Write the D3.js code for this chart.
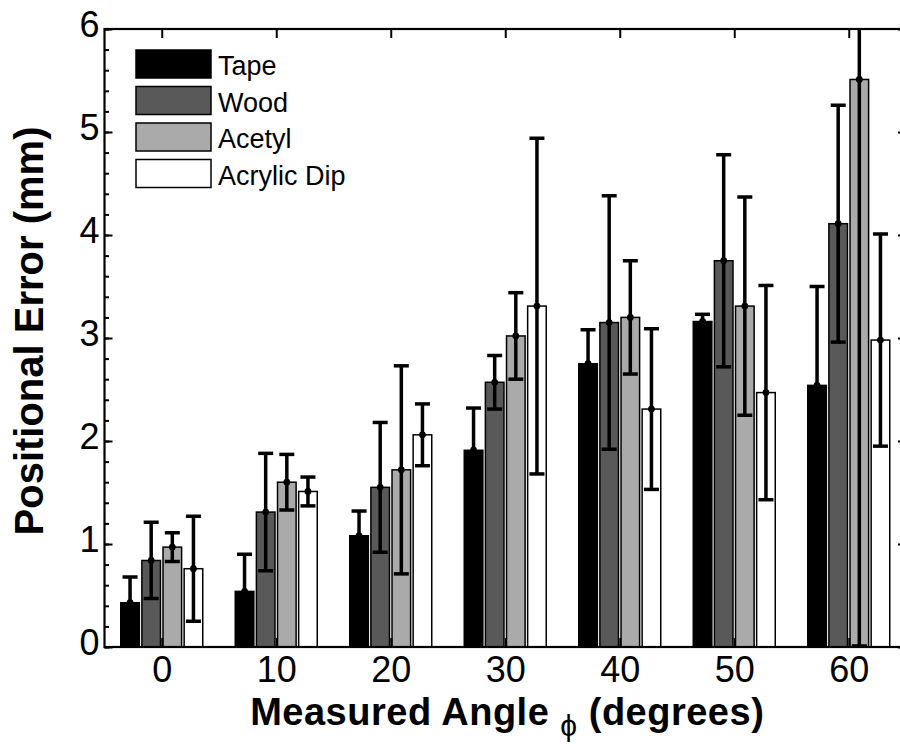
<!DOCTYPE html>
<html>
<head>
<meta charset="utf-8">
<script src="https://cdn.jsdelivr.net/npm/d3@7"></script>
<style>
  body { margin: 0; background: #fff; }
  text { font-family: "Liberation Sans", Arial, sans-serif; fill: #000; }
</style>
</head>
<body>
<script>
// data
const angles = [0, 10, 20, 30, 40, 50, 60];
const seriesNames = ["Tape", "Wood", "Acetyl", "Acrylic Dip"];
const seriesColors = ["#000000", "#595959", "#aaaaaa", "#ffffff"];

const tapeMean    = [0.43, 0.54, 1.08, 1.91, 2.75, 3.16, 2.54];
const tapeErr     = [0.25, 0.36, 0.24, 0.41, 0.33, 0.07, 0.96];
const woodMean    = [0.84, 1.31, 1.55, 2.57, 3.15, 3.75, 4.11];
const woodErr     = [0.37, 0.57, 0.63, 0.26, 1.23, 1.03, 1.15];
const acetylMean  = [0.97, 1.60, 1.72, 3.02, 3.20, 3.31, 5.51];
const acetylErr   = [0.14, 0.27, 1.01, 0.42, 0.55, 1.06, 5.50];
const acrylicMean = [0.76, 1.51, 2.06, 3.31, 2.31, 2.47, 2.98];
const acrylicErr  = [0.51, 0.14, 0.30, 1.63, 0.78, 1.04, 1.03];

const yTicks = [0, 1, 2, 3, 4, 5, 6];

const means = [tapeMean, woodMean, acetylMean, acrylicMean];
const errs = [tapeErr, woodErr, acetylErr, acrylicErr];

// flat table for the join
const rows = [];
seriesNames.forEach((s, si) => {
    angles.forEach((a, ai) => {
        rows.push({ series: s, si: si, angle: a, mean: means[si][ai], err: errs[si][ai] });
    });
});

const width = 900, height = 746;
const plotLeft = 104.5, plotRight = 906, plotTop = 29, plotBottom = 647;

const svg = d3.select("body").append("svg")
    .attr("width", width)
    .attr("height", height);

const x = d3.scaleLinear().domain([-5, 65]).range([plotLeft, plotRight]);
const y = d3.scaleLinear().domain([0, 6]).range([plotBottom, plotTop]);

// offset of each bar inside a group
const inner = d3.scaleBand()
    .domain(seriesNames)
    .range([-41, 41])
    .paddingInner(0.12);

svg.append("clipPath").attr("id", "plot-clip")
    .append("rect")
    .attr("x", plotLeft).attr("y", plotTop)
    .attr("width", plotRight - plotLeft).attr("height", plotBottom - plotTop);

const plot = svg.append("g").attr("clip-path", "url(#plot-clip)");

// bars
plot.selectAll("rect.bar")
    .data(rows)
    .join("rect")
    .attr("class", "bar")
    .attr("x", d => x(d.angle) + inner(d.series))
    .attr("y", d => y(d.mean))
    .attr("width", inner.bandwidth())
    .attr("height", d => y(0) - y(d.mean))
    .attr("fill", d => seriesColors[d.si])
    .attr("stroke", "#000")
    .attr("stroke-width", 1.5);

// error bars
const eb = plot.selectAll("g.err")
    .data(rows)
    .join("g")
    .attr("class", "err")
    .attr("transform", d => `translate(${x(d.angle) + inner(d.series) + inner.bandwidth() / 2},0)`);

eb.append("line")
    .attr("y1", d => y(d.mean - d.err))
    .attr("y2", d => y(d.mean + d.err))
    .attr("stroke", "#000")
    .attr("stroke-width", 3.5);

eb.selectAll("line.cap")
    .data(d => [d.mean - d.err, d.mean + d.err])
    .join("line")
    .attr("class", "cap")
    .attr("x1", -7.5).attr("x2", 7.5)
    .attr("y1", v => y(v)).attr("y2", v => y(v))
    .attr("stroke", "#000")
    .attr("stroke-width", 3.5);

eb.append("circle")
    .attr("cy", d => y(d.mean))
    .attr("r", 3.4)
    .attr("fill", "#000");

// axes
const minor = d3.range(0, 6.001, 0.2).map(v => +v.toFixed(1));

function styleAxis(g) {
    g.select(".domain").remove();
    g.selectAll(".tick line").attr("stroke", "#000").attr("stroke-width", 2);
}

svg.append("g")
    .attr("transform", `translate(${plotLeft},0)`)
    .call(d3.axisLeft(y).tickValues(minor).tickSizeInner(-4.5).tickSizeOuter(0).tickFormat(""))
    .call(styleAxis);

svg.append("g")
    .attr("transform", `translate(${plotRight},0)`)
    .call(d3.axisRight(y).tickValues(minor).tickSizeInner(-4.5).tickSizeOuter(0).tickFormat(""))
    .call(styleAxis);

svg.append("g")
    .attr("transform", `translate(${plotLeft},0)`)
    .call(d3.axisLeft(y).tickValues(yTicks).tickSizeInner(-8).tickSizeOuter(0).tickPadding(5).tickFormat(d3.format("d")))
    .call(styleAxis)
    .call(g => g.selectAll("text")
        .attr("font-size", 36)
        .attr("dy", "0.2em"));

svg.append("g")
    .attr("transform", `translate(${plotRight},0)`)
    .call(d3.axisRight(y).tickValues(yTicks).tickSizeInner(-8).tickSizeOuter(0).tickFormat(""))
    .call(styleAxis);

svg.append("g")
    .attr("transform", `translate(0,${plotBottom})`)
    .call(d3.axisBottom(x).tickValues(angles).tickSizeInner(-9).tickSizeOuter(0).tickPadding(9).tickFormat(d3.format("d")))
    .call(styleAxis)
    .call(g => g.selectAll("text")
        .attr("font-size", 36));

svg.append("g")
    .attr("transform", `translate(0,${plotTop})`)
    .call(d3.axisTop(x).tickValues(angles).tickSizeInner(-9).tickSizeOuter(0).tickFormat(""))
    .call(styleAxis);

// frame
svg.append("rect")
    .attr("x", plotLeft).attr("y", plotTop)
    .attr("width", plotRight - plotLeft).attr("height", plotBottom - plotTop)
    .attr("fill", "none")
    .attr("stroke", "#000")
    .attr("stroke-width", 2.2);

// legend
const legend = svg.append("g").attr("transform", "translate(136,50)");
const item = legend.selectAll("g")
    .data(seriesNames)
    .join("g")
    .attr("transform", (d, i) => `translate(0,${i * 36.5})`);

item.append("rect")
    .attr("width", 75)
    .attr("height", 28)
    .attr("fill", (d, i) => seriesColors[i])
    .attr("stroke", "#000")
    .attr("stroke-width", 1.5);

item.append("text")
    .attr("x", 82)
    .attr("y", 25)
    .attr("font-size", 27)
    .text(d => d);

// axis titles
const xt = svg.append("text")
    .attr("x", (plotLeft + plotRight) / 2 + 2)
    .attr("y", 725)
    .attr("text-anchor", "middle")
    .attr("font-size", 38)
    .attr("font-weight", "bold")
    .attr("letter-spacing", 0.5);
xt.append("tspan").text("Measured Angle ");
xt.append("tspan")
    .attr("font-size", 30)
    .attr("font-weight", "normal")
    .attr("dy", 11)
    .text("\u03D5");
xt.append("tspan")
    .attr("dy", -11)
    .text(" (degrees)");

svg.append("text")
    .attr("transform", "translate(43,331) rotate(-90)")
    .attr("text-anchor", "middle")
    .attr("font-size", 40)
    .attr("font-weight", "bold")
    .text("Positional Error (mm)");
</script>
</body>
</html>
